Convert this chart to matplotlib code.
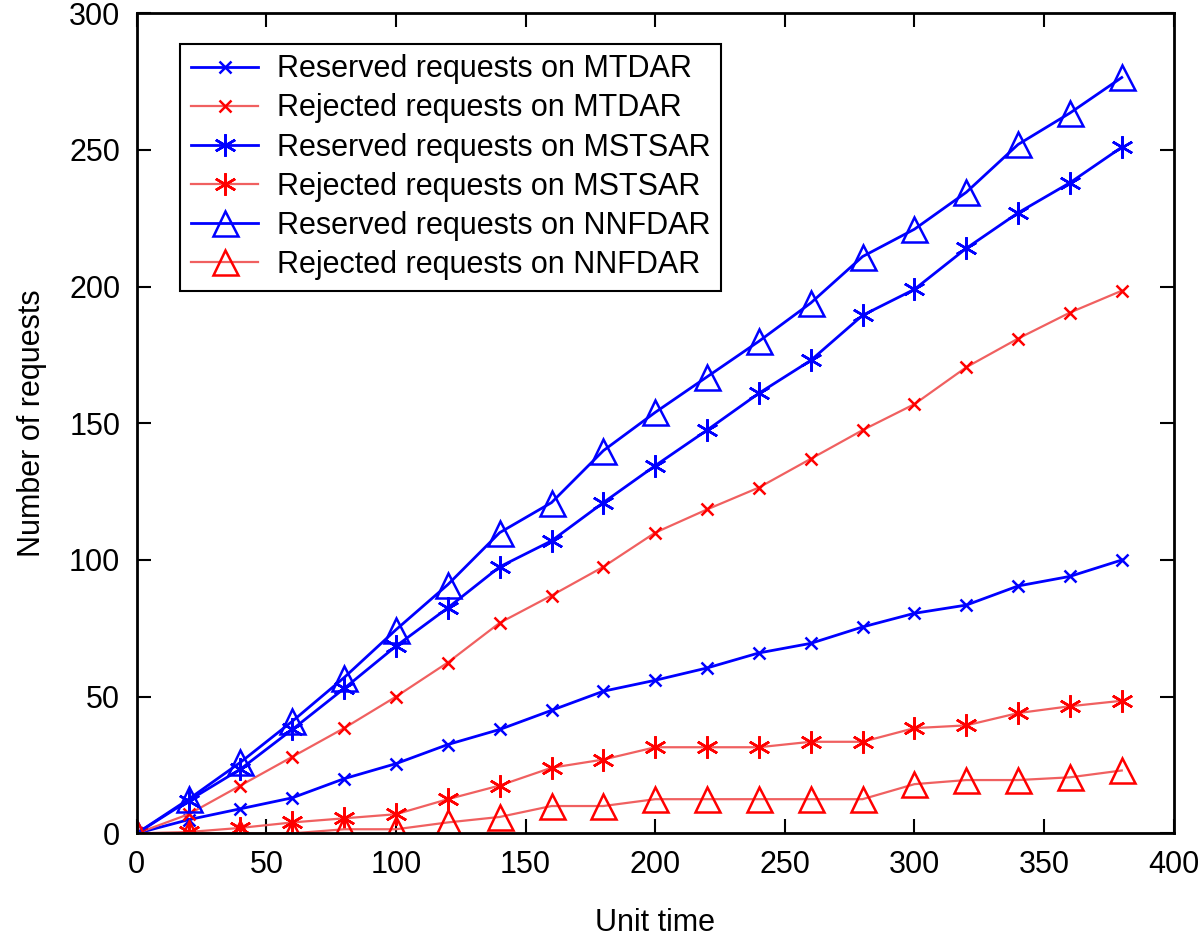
import matplotlib
matplotlib.use("Agg")
import matplotlib.pyplot as plt

plt.rcParams['font.family'] = ['Liberation Sans', 'DejaVu Sans']

# unit time
x = [0, 20, 40, 60, 80, 100, 120, 140, 160, 180, 200,
     220, 240, 260, 280, 300, 320, 340, 360, 380]

res_mtdar = [0, 5, 9, 13, 20, 25.5, 32.5, 38, 45, 52, 56,
             60.5, 66, 69.5, 75.5, 80.5, 83.5, 90.5, 94, 100]
rej_mtdar = [0, 7, 17.5, 28, 38.5, 50, 62.5, 77, 87, 97.5, 110,
             118.5, 126.5, 137, 147.5, 157, 170.5, 181, 190.5, 198.5]
res_mstsar = [0, 12, 23.5, 38, 53, 68.5, 82.5, 97.5, 107, 121, 134.5,
              147.5, 161, 173, 189.5, 199, 214, 227, 238, 251]
rej_mstsar = [0, 0.5, 2, 4, 5.5, 7, 12.5, 17.5, 24, 27, 31.5,
              31.5, 31.5, 33.5, 33.5, 38.5, 39.5, 44, 46.5, 48.5]
res_nnfdar = [0, 12.5, 26, 41, 57, 74.5, 91, 110, 121, 140, 154,
              167, 180, 194, 211, 221, 234.5, 252, 263.5, 276.5]
rej_nnfdar = [0, 0, 0, 0, 1.5, 1.5, 4, 6, 10, 10, 12.5,
              12.5, 12.5, 12.5, 12.5, 18, 19.5, 19.5, 20.5, 23]

blue = '#0000ff'
red_line = '#f06060'
red = '#ff0000'
star = (6, 2, 0)

fig = plt.figure(figsize=(12, 9.47), dpi=100)
ax = fig.add_axes([0.114, 0.120, 0.864, 0.866])

ax.plot(x, res_mtdar, color=blue, lw=2, marker='x', ms=8, mew=1.8,
        label='Reserved requests on MTDAR')
ax.plot(x, rej_mtdar, color=red_line, lw=1.6, marker='x', ms=8, mew=1.8,
        mec=red, label='Rejected requests on MTDAR')
ax.plot(x, res_mstsar, color=blue, lw=2, marker=star, ms=16, mew=1.8,
        label='Reserved requests on MSTSAR')
ax.plot(x, rej_mstsar, color=red_line, lw=1.6, marker=star, ms=16, mew=1.8,
        mec=red, label='Rejected requests on MSTSAR')
ax.plot(x, res_nnfdar, color=blue, lw=2, marker='^', ms=18, mew=1.8,
        mfc='none', label='Reserved requests on NNFDAR')
ax.plot(x, rej_nnfdar, color=red_line, lw=1.6, marker='^', ms=18, mew=1.8,
        mfc='none', mec=red, label='Rejected requests on NNFDAR')

ax.set_xlim(0, 400)
ax.set_ylim(0, 300)
ax.set_xticks(range(0, 401, 50))
ax.set_yticks(range(0, 301, 50))
ax.tick_params(direction='in', length=10, width=1.5, labelsize=22,
               top=True, right=True, pad=12)
for s in ax.spines.values():
    s.set_linewidth(2)

ax.set_xlabel('Unit time', fontsize=22, labelpad=20)
ax.set_ylabel('Number of requests', fontsize=22, labelpad=16)

leg = ax.legend(loc='upper left', bbox_to_anchor=(0.042, 0.963),
                borderaxespad=0, fontsize=22, handlelength=2.2,
                fancybox=False, framealpha=1, labelspacing=0.3,
                borderpad=0.35, handletextpad=0.6)
leg.get_frame().set_edgecolor('black')
leg.get_frame().set_linewidth(1.5)

fig.savefig('out.png', dpi=100)
